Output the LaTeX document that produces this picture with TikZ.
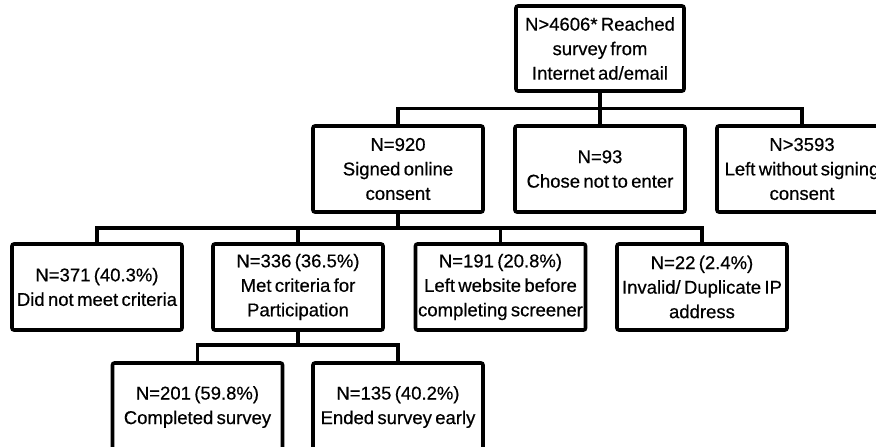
\documentclass[tikz,border=0pt]{standalone}
\usepackage{fontspec}
\setmainfont{Liberation Sans}[WordSpace=0.65,FakeBold=0.5]
\begin{document}
\begin{tikzpicture}[x=1pt,y=-1pt,
  box/.style={draw=black, line width=3.6pt, rounded corners=2pt, minimum width=170pt, minimum height=86pt,
    inner sep=0pt, align=center, font=\fontsize{18.5}{24.5}\selectfont},
  link/.style={draw=black, line width=3.4pt, line cap=rect}]
\clip (0,0) rectangle (876,447);
\fill[white] (0,0) rectangle (876,447);
% top
\node[box, minimum width=168pt, minimum height=85pt] (top) at (600,48.5) {N>4606* Reached\\survey from\\Internet ad/email};
% level 2
\node[box] (n920) at (398,169) {N=920\\Signed online\\consent};
\node[box] (n93) at (600,169) {N=93\\Chose not to enter};
\node[box] (n3593) at (802,169) {N>3593\\Left without signing\\consent};
% level 3
\node[box] (n371) at (97,287) {N=371 (40.3\%)\\Did not meet criteria};
\node[box] (n336) at (298,287) {N=336 (36.5\%)\\Met criteria for\\Participation};
\node[box] (n191) at (500.5,287) {N=191 (20.8\%)\\Left website before\\completing screener};
\node[box] (n22) at (702,287) {N=22 (2.4\%)\\Invalid/ Duplicate IP\\address};
% level 4
\node[box, minimum height=88pt] (n201) at (197.5,407) {N=201 (59.8\%)\\Completed survey};
\node[box, minimum height=88pt] (n135) at (398,407) {N=135 (40.2\%)\\Ended survey early};
% junction levels
\coordinate (h1) at (0,108.5);
\coordinate (h2) at (0,228);
\coordinate (h3) at (0,345);
% connectors
\draw[link] (top.south) -- (n93.north);
\draw[link] (n920.north) -- (n920.north |- h1) -- (n3593.north |- h1) -- (n3593.north);
\draw[link] (n920.south) -- (n920.south |- h2);
\draw[link] (n371.north) -- (n371.north |- h2) -- (n22.north |- h2) -- (n22.north);
\draw[link] (n336.north) -- (n336.north |- h2);
\draw[link] (n191.north) -- (n191.north |- h2);
\draw[link] (n336.south) -- (n336.south |- h3);
\draw[link] (n201.north) -- (n201.north |- h3) -- (n135.north |- h3) -- (n135.north);
\end{tikzpicture}
\end{document}
